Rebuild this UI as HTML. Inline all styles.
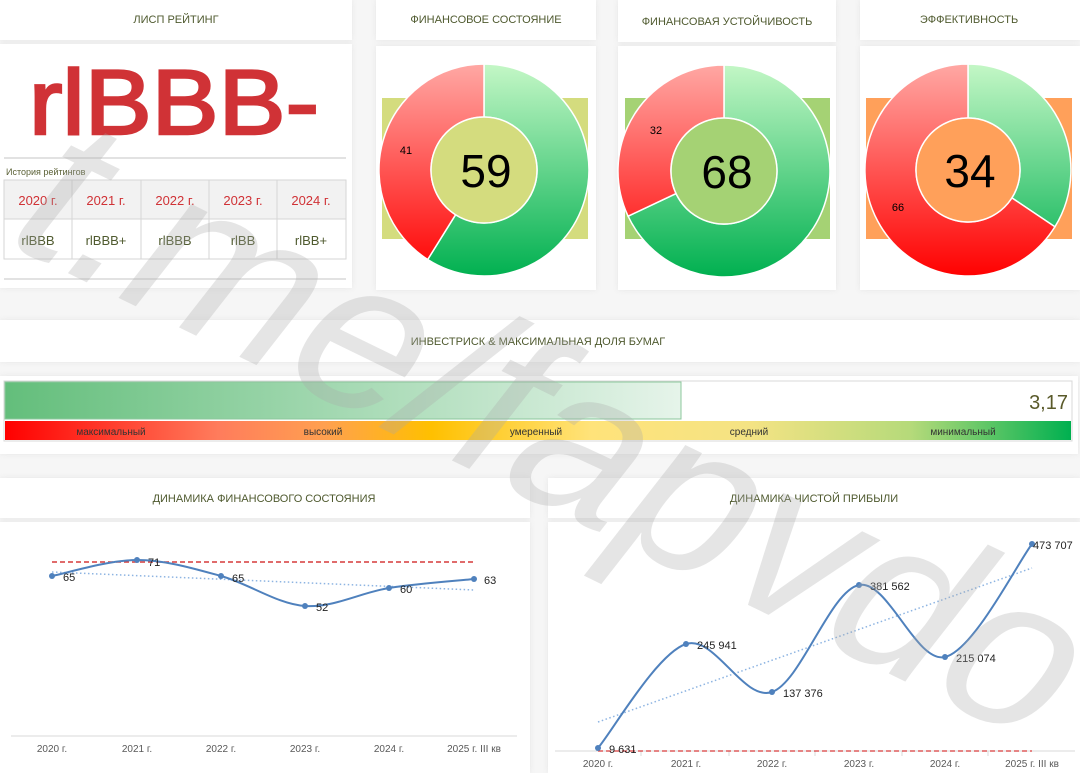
<!DOCTYPE html>
<html><head><meta charset="utf-8">
<style>
html,body{margin:0;padding:0;background:#f6f6f6;}
svg{display:block;}
text{font-family:"Liberation Sans",sans-serif;}
</style></head>
<body>
<svg width="1080" height="773" viewBox="0 0 1080 773" xmlns="http://www.w3.org/2000/svg">
<defs>
<linearGradient id="gr" gradientUnits="userSpaceOnUse" x1="0" y1="64" x2="0" y2="277">
<stop offset="0" stop-color="#ffa8a4"/><stop offset="1" stop-color="#ff0000"/></linearGradient>
<linearGradient id="gg" gradientUnits="userSpaceOnUse" x1="0" y1="64" x2="0" y2="277">
<stop offset="0" stop-color="#c4f7c6"/><stop offset="1" stop-color="#00b050"/></linearGradient>
<linearGradient id="bar" x1="0" y1="0" x2="1" y2="0">
<stop offset="0" stop-color="#63be7b"/><stop offset="1" stop-color="#e6f4ea"/></linearGradient>
<linearGradient id="scale" x1="0" y1="0" x2="1" y2="0">
<stop offset="0" stop-color="#ff0000"/><stop offset="0.2" stop-color="#ff7c5c"/><stop offset="0.3" stop-color="#ffa050"/><stop offset="0.4" stop-color="#ffc000"/><stop offset="0.55" stop-color="#ffe37a"/><stop offset="0.7" stop-color="#f4e384"/><stop offset="0.85" stop-color="#b5da7a"/><stop offset="1" stop-color="#00b050"/></linearGradient>
<filter id="sh" x="-5%" y="-10%" width="110%" height="120%"><feGaussianBlur stdDeviation="3"/></filter>
</defs>

<g fill="#e6e6e6" filter="url(#sh)">
<rect x="0" y="0" width="352" height="40"/><rect x="376" y="0" width="220" height="40"/><rect x="618" y="0" width="218" height="42"/><rect x="860" y="0" width="220" height="40"/>
<rect x="0" y="44" width="352" height="244"/><rect x="376" y="46" width="220" height="244"/><rect x="618" y="46" width="218" height="244"/><rect x="860" y="46" width="220" height="244"/>
<rect x="0" y="320" width="1080" height="42"/><rect x="0" y="376" width="1078" height="78"/>
<rect x="0" y="478" width="530" height="40"/><rect x="548" y="478" width="532" height="40"/>
<rect x="0" y="522" width="530" height="251"/><rect x="548" y="522" width="532" height="251"/>
</g>
<g fill="#ffffff">
<rect x="0" y="0" width="352" height="40"/><rect x="376" y="0" width="220" height="40"/><rect x="618" y="0" width="218" height="42"/><rect x="860" y="0" width="220" height="40"/>
<rect x="0" y="44" width="352" height="244"/><rect x="376" y="46" width="220" height="244"/><rect x="618" y="46" width="218" height="244"/><rect x="860" y="46" width="220" height="244"/>
<rect x="0" y="320" width="1080" height="42"/><rect x="0" y="376" width="1078" height="78"/>
<rect x="0" y="478" width="530" height="40"/><rect x="548" y="478" width="532" height="40"/>
<rect x="0" y="522" width="530" height="251"/><rect x="548" y="522" width="532" height="251"/>
</g>

<g fill="#4f5a2f" font-size="11" text-anchor="middle">
<text x="176" y="23">ЛИСП РЕЙТИНГ</text>
<text x="486" y="23">ФИНАНСОВОЕ СОСТОЯНИЕ</text>
<text x="727" y="25">ФИНАНСОВАЯ УСТОЙЧИВОСТЬ</text>
<text x="969" y="23">ЭФФЕКТИВНОСТЬ</text>
<text x="538" y="345">ИНВЕСТРИСК &amp; МАКСИМАЛЬНАЯ ДОЛЯ БУМАГ</text>
<text x="264" y="502">ДИНАМИКА ФИНАНСОВОГО СОСТОЯНИЯ</text>
<text x="814" y="502">ДИНАМИКА ЧИСТОЙ ПРИБЫЛИ</text>
</g>

<text x="29" y="134" font-size="92" fill="#d03236" stroke="#d03236" stroke-width="2.5" textLength="290" lengthAdjust="spacingAndGlyphs">rlBBB-</text>
<rect x="4" y="157" width="342" height="2" fill="#e2e2e2"/>
<text x="6" y="175" font-size="9" fill="#5a6035">История рейтингов</text>
<rect x="4" y="180" width="342" height="39" fill="#f2f2f2"/>
<rect x="4" y="219" width="342" height="40" fill="#fff"/>
<g stroke="#d6d6d6" fill="none"><rect x="4" y="180" width="342" height="79"/><line x1="4" y1="219" x2="346" y2="219"/>
<line x1="72" y1="180" x2="72" y2="259"/><line x1="141" y1="180" x2="141" y2="259"/><line x1="209" y1="180" x2="209" y2="259"/><line x1="277" y1="180" x2="277" y2="259"/></g>
<g font-size="13" text-anchor="middle" fill="#d03236">
<text x="38" y="205">2020 г.</text><text x="106" y="205">2021 г.</text><text x="175" y="205">2022 г.</text><text x="243" y="205">2023 г.</text><text x="311" y="205">2024 г.</text></g>
<g font-size="13" text-anchor="middle" fill="#4f5a2f">
<text x="38" y="245">rlBBB</text><text x="106" y="245">rlBBB+</text><text x="175" y="245">rlBBB</text><text x="243" y="245">rlBB</text><text x="311" y="245">rlBB+</text></g>
<rect x="4" y="278" width="342" height="2" fill="#e2e2e2"/>

<rect x="382" y="98" width="206" height="141" fill="#d4dc7e"/>
<path d="M484,64 A105,106 0 1 1 427.7,259.5 L455.6,214.7 A53,53 0 1 0 484,117 Z" fill="url(#gg)" stroke="#fff" stroke-width="1.5"/>
<path d="M427.7,259.5 A105,106 0 0 1 484,64 L484,117 A53,53 0 0 0 455.6,214.7 Z" fill="url(#gr)" stroke="#fff" stroke-width="1.5"/>
<circle cx="484" cy="170" r="53" fill="#d4dc7e" stroke="#fff" stroke-width="1.5"/>
<text x="486" y="187" font-size="46" text-anchor="middle">59</text>
<text x="406" y="154" font-size="11" text-anchor="middle">41</text>

<rect x="625" y="98" width="205" height="141" fill="#a5d274"/>
<path d="M724,65 A106,106 0 1 1 628.1,216.2 L676,193.6 A53,53 0 1 0 724,118 Z" fill="url(#gg)" stroke="#fff" stroke-width="1.5"/>
<path d="M628.1,216.2 A106,106 0 0 1 724,65 L724,118 A53,53 0 0 0 676,193.6 Z" fill="url(#gr)" stroke="#fff" stroke-width="1.5"/>
<circle cx="724" cy="171" r="53" fill="#a5d274" stroke="#fff" stroke-width="1.5"/>
<text x="727" y="188" font-size="46" text-anchor="middle">68</text>
<text x="656" y="134" font-size="11" text-anchor="middle">32</text>

<rect x="866" y="98" width="206" height="141" fill="#ffa05a"/>
<path d="M968,64 A103,106 0 0 1 1054.9,226.8 L1011.9,197.9 A52,52 0 0 0 968,118 Z" fill="url(#gg)" stroke="#fff" stroke-width="1.5"/>
<path d="M1054.9,226.8 A103,106 0 1 1 968,64 L968,118 A52,52 0 1 0 1011.9,197.9 Z" fill="url(#gr)" stroke="#fff" stroke-width="1.5"/>
<circle cx="968" cy="170" r="52" fill="#ffa05a" stroke="#fff" stroke-width="1.5"/>
<text x="970" y="187" font-size="46" text-anchor="middle">34</text>
<text x="898" y="211" font-size="11" text-anchor="middle">66</text>

<rect x="4" y="381" width="1068" height="60" fill="#fff" stroke="#d8d8d8"/>
<rect x="5" y="382" width="676" height="37" fill="url(#bar)" stroke="#8cc79c"/>
<text x="1068" y="409" font-size="20" text-anchor="end" fill="#5a5a2a">3,17</text>
<rect x="5" y="421" width="1066" height="19" fill="url(#scale)"/>
<g font-size="10" text-anchor="middle" fill="#333">
<text x="111" y="435">максимальный</text><text x="323" y="435">высокий</text><text x="536" y="435">умеренный</text><text x="749" y="435">средний</text><text x="963" y="435">минимальный</text></g>

<line x1="11" y1="736" x2="517" y2="736" stroke="#d9d9d9"/>
<line x1="52" y1="562" x2="474" y2="562" stroke="#d63a3a" stroke-width="1.5" stroke-dasharray="5,3"/>
<line x1="52" y1="572" x2="474" y2="590" stroke="#8db4e2" stroke-width="1.5" stroke-dasharray="1.5,2.5"/>
<path d="M52,576 C66,573.3 108.8,560 137,560 C165.2,560 193,568.3 221,576 C249,583.7 277,604 305,606 C333,608 360.8,592.5 389,588 C417.2,583.5 459.8,580.5 474,579" fill="none" stroke="#4f81bd" stroke-width="2"/>
<g fill="#4f81bd"><circle cx="52" cy="576" r="3"/><circle cx="137" cy="560" r="3"/><circle cx="221" cy="576" r="3"/><circle cx="305" cy="606" r="3"/><circle cx="389" cy="588" r="3"/><circle cx="474" cy="579" r="3"/></g>
<g font-size="11" fill="#222">
<text x="63" y="581">65</text><text x="148" y="566">71</text><text x="232" y="582">65</text><text x="316" y="611">52</text><text x="400" y="593">60</text><text x="484" y="584">63</text></g>
<g font-size="10" fill="#595959" text-anchor="middle">
<text x="52" y="752">2020 г.</text><text x="137" y="752">2021 г.</text><text x="221" y="752">2022 г.</text><text x="305" y="752">2023 г.</text><text x="389" y="752">2024 г.</text><text x="474" y="752">2025 г. III кв</text></g>

<line x1="555" y1="751" x2="1075" y2="751" stroke="#d9d9d9"/>
<g stroke="#d9d9d9"><line x1="641" y1="751" x2="641" y2="756"/><line x1="729" y1="751" x2="729" y2="756"/><line x1="815" y1="751" x2="815" y2="756"/><line x1="902" y1="751" x2="902" y2="756"/><line x1="988" y1="751" x2="988" y2="756"/></g>
<line x1="598" y1="751" x2="1032" y2="751" stroke="#d63a3a" stroke-width="1.2" stroke-dasharray="5,3"/>
<line x1="598" y1="722" x2="1032" y2="568" stroke="#8db4e2" stroke-width="1.5" stroke-dasharray="1.5,2.5"/>
<path d="M598,748 C612.7,730.7 657,653.3 686,644 C715,634.7 743.2,701.8 772,692 C800.8,682.2 830.2,590.8 859,585 C887.8,579.2 916.2,663.8 945,657 C973.8,650.2 1017.5,562.8 1032,544" fill="none" stroke="#4f81bd" stroke-width="2"/>
<g fill="#4f81bd"><circle cx="598" cy="748" r="3"/><circle cx="686" cy="644" r="3"/><circle cx="772" cy="692" r="3"/><circle cx="859" cy="585" r="3"/><circle cx="945" cy="657" r="3"/><circle cx="1032" cy="544" r="3"/></g>
<g font-size="11" fill="#222">
<text x="609" y="753">9 631</text><text x="697" y="649">245 941</text><text x="783" y="697">137 376</text><text x="870" y="590">381 562</text><text x="956" y="662">215 074</text><text x="1033" y="549">473 707</text></g>
<g font-size="10" fill="#595959" text-anchor="middle">
<text x="598" y="767">2020 г.</text><text x="686" y="767">2021 г.</text><text x="772" y="767">2022 г.</text><text x="859" y="767">2023 г.</text><text x="945" y="767">2024 г.</text><text x="1032" y="767">2025 г. III кв</text></g>

<text x="45" y="262" font-size="220" fill="#a8a8a8" fill-opacity="0.3" transform="rotate(26 45 262) skewX(-12)" style="font-family:'Liberation Sans',sans-serif">t.me/fapvdo</text>
</svg>
</body></html>
